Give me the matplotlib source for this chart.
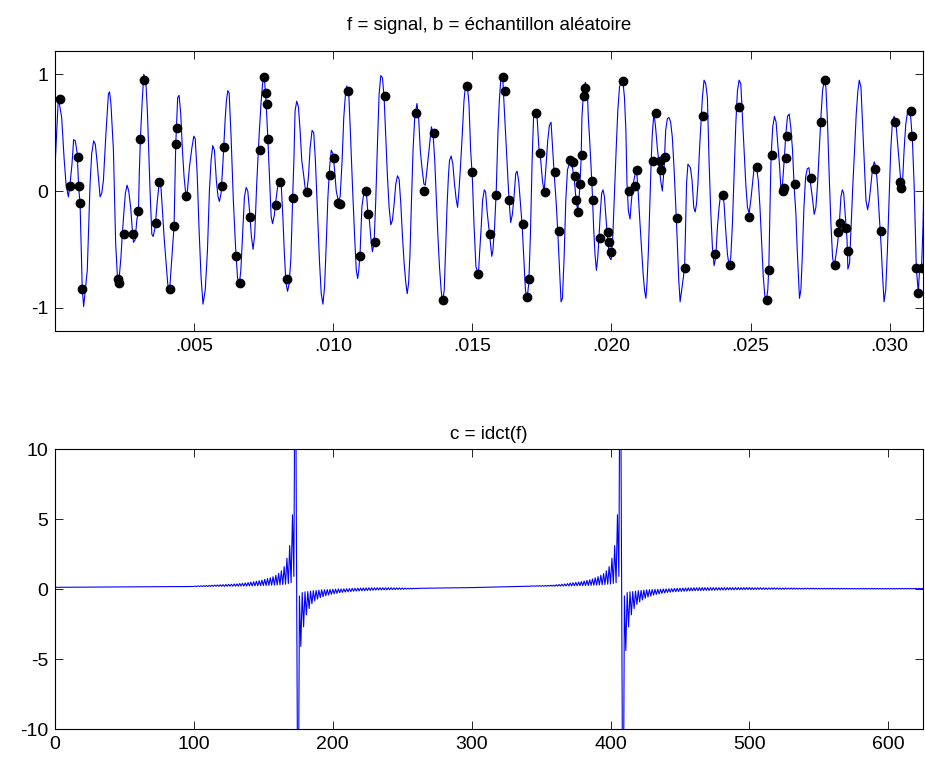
import matplotlib
matplotlib.use('Agg')
import matplotlib.pyplot as plt
import numpy as np

# ---------------- data ----------------
# signal f : time in units of 1e-4 s, value
f_time_1e4 = [0, 1.2, 2.4, 3.24, 3.96, 4.8, 5.4, 6.1, 6.7, 7.3, 8.0, 8.5, 9.0, 9.8, 10.3, 11.6, 12.6, 13.2, 13.9, 14.5,
              15.2, 16.2, 16.8, 17.4, 18.3, 19.2, 19.6, 20.1, 21.0, 21.8, 22.5, 22.9, 23.7, 24.2, 24.8, 25.3, 25.9, 26.5, 27.2, 27.9,
              28.2, 28.8, 29.4, 30.0, 30.3, 30.7, 31.3, 31.9, 32.6, 33.2, 34.2, 34.8, 35.3, 36.0, 36.8, 37.5,
              38.1, 39.2, 40.5, 41.1, 42.0, 42.8, 43.4, 44.1, 44.6, 45.2, 45.8, 46.4, 47.1, 47.6, 48.3, 49.2, 49.9, 50.4,
              51.1, 51.8, 52.5, 53.2, 54.0, 54.8, 55.5, 56.1, 56.7, 57.3, 58.0, 58.6, 59.1, 59.7, 60.4, 61.2, 61.6, 62.1,
              62.6, 63.3, 64.1, 64.9, 65.6, 66.2, 66.8, 67.5, 68.1, 68.7, 69.3, 70.0, 70.6, 71.2, 71.8, 72.5, 73.4, 74.1,
              74.7, 75.2, 75.9, 76.6, 77.1, 77.7, 78.2, 78.8, 79.4, 80.0, 80.7, 81.3, 81.9, 82.4, 83.0, 83.6, 84.2, 84.8,
              85.4, 85.9, 86.3, 86.9, 87.5, 88.1, 88.7, 89.3, 89.9, 90.5, 91.1, 91.7, 92.4, 93.0, 93.6, 94.4, 95.1, 95.7,
              96.3, 96.9, 97.5, 98.1, 98.7, 99.3, 99.9, 100.5, 101.1, 101.8, 102.5, 103.2, 103.8, 104.4, 104.9, 105.6,
              106.2, 107.0, 107.7, 108.3, 108.8, 109.2, 109.7, 110.3, 111.2, 111.9, 112.5,
              112.9, 113.7, 114.1, 114.7, 115.3, 115.9, 116.5, 117.1, 117.7, 118.3, 118.9, 119.5, 120.1, 120.7, 121.3,
              121.9, 122.5, 123.1, 123.7, 124.3, 124.9, 125.5, 126.1, 126.6, 127.1, 127.6, 128.1, 128.7, 129.3, 130.1,
              130.7, 131.3, 131.9, 132.6, 133.1, 133.7, 134.3, 135.3, 135.9, 136.5, 137.1, 137.6, 138.2, 138.8, 139.3,
              139.9, 140.4, 140.9, 141.4, 141.8, 142.4, 143.0, 143.6, 144.2, 144.7, 145.2, 145.8, 146.4, 147.0, 147.6,
              148.2, 148.8, 149.4, 150.0, 150.6, 151.3,
              152.2, 152.6, 153.2, 153.7, 154.3, 154.8, 155.3, 155.9, 156.5, 157.0, 157.4, 158.0, 158.6, 159.2, 159.7,
              160.3, 160.9, 161.4, 162.0, 162.6, 163.2, 163.8, 164.4, 165.0, 165.6, 166.1, 166.7, 167.3, 167.9, 168.5,
              169.1, 169.7, 170.3, 170.9, 171.5, 172.1, 172.7, 173.3, 173.9, 174.6, 175.2, 175.8, 176.4, 177.1, 177.7,
              178.3, 178.9, 179.5, 180.1, 180.7, 181.3, 181.9, 182.4, 183.0, 183.6, 184.2, 184.8, 185.4, 186.0, 186.7,
              187.3, 187.9, 188.5, 189.1,
              189.4, 190.0, 190.6, 191.3, 191.7, 192.2, 192.7, 193.2, 193.6, 194.1, 194.6, 195.1, 195.6, 196.0, 196.5,
              197.0, 197.5, 198.1, 198.7, 199.3, 199.9, 200.5, 201.1, 201.7, 202.3, 202.9, 203.5, 204.1, 204.7, 205.2,
              205.6, 206.1, 206.7, 207.2, 207.8, 208.4, 209.0, 209.6, 210.2, 210.8, 211.4, 211.9, 212.4, 212.8, 213.3,
              213.8, 214.3, 214.7, 215.3, 215.9, 216.5, 217.1, 217.7, 218.3, 218.9, 219.5, 220.1, 220.7, 221.3, 221.9,
              222.5, 223.1, 223.7, 224.2, 224.7, 225.4, 226.3, 226.6, 227.0,
              227.5, 228.4, 229.0, 229.6, 230.1, 230.6, 231.1, 231.7, 232.3, 232.7, 233.3, 233.9, 234.5, 235.1, 235.7,
              236.3, 236.9, 237.5, 238.1, 238.7, 239.3, 239.9, 240.5, 241.1, 241.7, 242.3, 242.9, 243.5, 244.1, 244.7,
              245.3, 245.9, 246.5, 247.1, 247.7, 248.3, 248.9, 249.5, 250.1, 250.7, 251.3, 252.0, 252.8, 253.4, 254.0,
              254.6, 255.2, 255.6, 256.2, 256.6, 257.0, 257.4, 258.0, 258.6, 259.2, 259.8, 260.4, 260.9, 261.5, 262.1,
              262.7, 263.3, 263.9, 264.5, 265.1,
              265.7, 266.3, 266.8, 267.3, 267.6, 268.1, 268.6, 269.2, 269.8, 270.4, 271.0, 271.6, 272.2, 272.9, 273.5,
              274.1, 274.7, 275.3, 275.9, 276.5, 277.1, 277.7, 278.3, 278.9, 279.5, 280.1, 280.7, 281.3, 281.9, 282.5,
              283.0, 283.5, 284.1, 284.7, 285.0, 285.6, 286.2, 286.8, 287.4, 288.0, 288.6, 289.1, 289.7, 290.3, 290.9,
              291.5, 292.1, 292.7, 293.3, 293.9, 294.5, 295.1, 295.7, 296.3, 296.9, 297.5, 298.0, 298.6, 299.2, 299.8,
              300.4, 301.0, 301.6, 302.2, 302.8, 303.4, 304.0, 304.6, 305.2, 305.8, 306.4, 307.0, 307.6, 308.2, 308.8,
              309.6, 310.3, 310.8, 311.5, 312.0, 312.2]
f_value = [0.20, 0.80, 0.63, 0.29, 0.06, -0.05, 0.06, 0.23, 0.44, 0.43, 0.32, 0.03, -0.10, -0.84, -0.99, -0.68, 0.06, 0.32, 0.43, 0.40,
           0.23, -0.05, -0.02, 0.09, 0.49, 0.83, 0.85, 0.75, 0.35, -0.45, -0.76, -0.79, -0.57, -0.37, -0.17, -0.02, 0.05, 0.00, -0.14, -0.37,
           -0.44, -0.42, -0.25, -0.17, 0.15, 0.45, 0.75, 1.00, 0.96, 0.69, -0.02, -0.37, -0.39, -0.31, -0.08, 0.08,
           0.03, -0.39, -0.79, -0.88, -0.57, -0.30, 0.40, 0.80, 0.82, 0.66, 0.35, 0.12, -0.05, 0.00, 0.20, 0.37, 0.47, 0.45,
           0.15, -0.34, -0.74, -0.97, -0.85, -0.51, 0.00, 0.26, 0.39, 0.35, 0.09, -0.05, -0.09, -0.02, 0.26, 0.63, 0.77, 0.86,
           0.84, 0.46, -0.08, -0.48, -0.74, -0.81, -0.68, -0.34, -0.05, 0.03, 0.00, -0.19, -0.39, -0.50, -0.37, 0.06, 0.49, 0.77,
           0.94, 0.99, 0.75, 0.40, 0.12, -0.22, -0.28, -0.21, -0.08, 0.03, 0.09, 0.06, -0.22, -0.51, -0.79, -0.86, -0.79, -0.57,
           -0.08, 0.29, 0.69, 0.77, 0.72, 0.52, 0.26, 0.15, 0.03, -0.01, 0.12, 0.37, 0.52, 0.50, 0.26, -0.22, -0.62, -0.88,
           -0.97, -0.82, -0.45, -0.05, 0.20, 0.35, 0.32, 0.18, 0.00, -0.08, -0.05, 0.26, 0.63, 0.83, 0.90, 0.83,
           0.49, 0.00, -0.39, -0.68, -0.75, -0.68, -0.51, -0.14, 0.02, 0.00, -0.20,
           -0.22, -0.45, -0.52, -0.44, -0.08, 0.40, 0.83, 0.99, 0.97, 0.80, 0.46, 0.12, -0.14, -0.29, -0.25,
           -0.11, 0.06, 0.13, 0.10, -0.11, -0.39, -0.62, -0.79, -0.88, -0.79, -0.54, -0.11, 0.35, 0.63, 0.75,
           0.63, 0.35, 0.20, 0.06, 0.05, 0.18, 0.32, 0.55, 0.49, 0.26, -0.08, -0.37, -0.65, -0.85, -0.96,
           -0.85, -0.51, -0.14, 0.12, 0.26, 0.30, 0.23, 0.06, -0.07, -0.14, 0.00, 0.23, 0.49, 0.77, 0.92,
           0.90, 0.75, 0.35, 0.12, -0.28, -0.65,
           -0.71, -0.54, -0.31, -0.08, 0.01, -0.01, -0.17, -0.31, -0.45, -0.56, -0.51, -0.31, 0.00, 0.49, 0.77,
           0.98, 0.98, 0.75, 0.46, 0.20, -0.08, -0.27, -0.20, -0.05, 0.15, 0.17, 0.08, -0.11, -0.29, -0.57,
           -0.85, -0.92, -0.79, -0.37, 0.26, 0.69, 0.70, 0.63, 0.38, 0.26, 0.09, -0.01, 0.18, 0.43, 0.56,
           0.59, 0.35, 0.12, -0.08, -0.34, -0.65, -0.95, -0.92, -0.57, -0.08, 0.18, 0.23, 0.22, 0.20, 0.09,
           -0.08, -0.17, -0.02, 0.26,
           0.63, 0.86, 0.93, 0.89, 0.63, 0.43, 0.20, -0.05, -0.31, -0.54, -0.68, -0.57, -0.37, -0.19, -0.02,
           0.01, -0.05, -0.25, -0.42, -0.57, -0.59, -0.39, -0.02, 0.35, 0.69, 0.89, 0.94, 0.95, 0.80, 0.52,
           0.06, -0.17, -0.24, -0.08, 0.06, 0.13, 0.19, 0.00, -0.25, -0.48, -0.71, -0.85, -0.92, -0.79, -0.51,
           -0.11, 0.26, 0.49, 0.67, 0.54, 0.37, 0.23, 0.09, 0.00, 0.18, 0.52, 0.62, 0.63, 0.59, 0.46,
           0.20, -0.11, -0.45, -0.76, -0.95, -0.82, -0.66, -0.37, 0.06,
           0.23, 0.20, 0.09, -0.14, -0.18, -0.11, 0.06, 0.37, 0.63, 0.80, 0.95, 0.92, 0.80, 0.26, -0.17,
           -0.48, -0.64, -0.57, -0.31, -0.14, -0.02, -0.01, -0.11, -0.34, -0.54, -0.64, -0.57, -0.28, 0.15, 0.57,
           0.86, 0.95, 0.92, 0.63, 0.35, 0.06, -0.14, -0.19, -0.08, 0.06, 0.20, 0.23, 0.09, -0.14, -0.45,
           -0.74, -0.91, -0.95, -0.85, -0.64, -0.14, 0.30, 0.55, 0.64, 0.59, 0.40, 0.23, 0.03, 0.06, 0.26,
           0.49, 0.64, 0.66, 0.54, 0.35,
           0.03, -0.19, -0.51, -0.76, -0.92, -0.85, -0.57, -0.14, 0.12, 0.19, 0.20, 0.06, -0.05, -0.20, -0.14,
           0.06, 0.35, 0.63, 0.86, 0.95, 0.89, 0.57, 0.12, -0.28, -0.57, -0.65, -0.55, -0.45, -0.29, -0.05,
           0.01, -0.02, -0.22, -0.42, -0.67, -0.62, -0.28, 0.06, 0.35, 0.66, 0.86, 0.95, 0.89, 0.57, 0.23,
           -0.08, -0.16, -0.08, 0.06, 0.20, 0.25, 0.20, 0.03, -0.22, -0.45, -0.74, -0.95, -0.85, -0.51, -0.08,
           0.35, 0.59, 0.64, 0.60, 0.43, 0.26, 0.09, 0.05, 0.35, 0.57, 0.67, 0.70, 0.63, 0.43, 0.06,
           -0.66, -0.87, -0.66, -0.64, -0.30, -0.10]

# random sample b : time in units of 1e-4 s, value
b_time_1e4 = [1.8, 5.4, 8.1, 8.5, 9.0, 9.8, 22.5, 22.9, 24.8, 27.9, 30.0, 30.6, 32.1, 36.3, 37.4,
              41.4, 42.8, 43.4, 43.7, 47.1, 60.0, 60.8, 65.1, 66.5, 70.1, 73.7,
              75.2, 75.7, 76.1, 76.7, 79.5, 80.9, 83.3, 85.5, 90.5, 98.9, 100.4, 101.7, 102.5, 105.4, 109.7, 111.9, 112.5,
              114.9, 118.5, 129.9, 132.7, 136.3, 139.3, 148.1, 149.9, 152.0,
              156.5, 158.6, 160.9, 161.6, 163.1, 168.1, 169.7, 170.3, 173.0, 174.5, 176.0, 179.6, 181.1, 185.0, 186.2,
              186.8, 187.4, 188.0, 188.6,
              189.3, 190.1, 190.5, 193.1, 193.4, 196.0, 198.6, 199.1, 199.8, 204.1, 206.2, 208.4, 209.2, 214.9, 216.2,
              217.6, 217.9, 219.1, 223.6, 226.3,
              232.9, 237.2, 240.0, 242.8, 245.8, 249.4, 252.3, 256.0, 256.6, 257.6, 261.6, 262.2, 262.6, 263.0,
              266.0, 271.6, 275.2, 276.7, 280.3, 281.6, 282.0, 284.5, 284.9, 294.7, 296.8, 301.9, 303.8, 304.2,
              307.6, 308.2, 309.6, 310.3, 311.5]
b_value = [0.79, 0.04, 0.29, 0.04, -0.10, -0.84, -0.75, -0.79, -0.37, -0.37, -0.17, 0.45, 0.95, -0.27, 0.08,
           -0.84, -0.30, 0.40, 0.54, -0.04, 0.04, 0.38, -0.56, -0.79, -0.22, 0.35,
           0.98, 0.84, 0.75, 0.45, -0.12, 0.08, -0.75, -0.06, -0.01, 0.14, 0.28, -0.10, -0.11, 0.86, -0.56, 0.00, -0.20,
           -0.44, 0.81, 0.67, 0.00, 0.50, -0.93, 0.90, 0.16, -0.71,
           -0.37, -0.03, 0.98, 0.86, -0.08, -0.28, -0.91, -0.75, 0.67, 0.33, -0.01, 0.16, -0.34, 0.27, 0.25,
           0.13, -0.08, -0.18, 0.06,
           0.31, 0.81, 0.88, 0.09, -0.08, -0.40, -0.35, -0.44, -0.52, 0.94, 0.00, 0.04, 0.18, 0.26, 0.67,
           0.26, 0.18, 0.29, -0.23, -0.66,
           0.64, -0.54, -0.03, -0.63, 0.72, -0.22, 0.21, -0.93, -0.68, 0.31, 0.00, 0.03, 0.28, 0.47,
           0.06, 0.11, 0.59, 0.95, -0.63, -0.35, -0.27, -0.32, -0.51, 0.19, -0.34, 0.59, 0.08, 0.03,
           0.69, 0.47, -0.66, -0.87, -0.66]

# c = idct(f): flat parts (index, value) and the dense oscillating stretches
c_base_start_idx = [0, 99]
c_base_start_val = [0.12, 0.18]
c_seg1_first_idx = 100
c_seg1_values = [
    0.18, 0.21, 0.18, 0.22, 0.18, 0.23, 0.18, 0.24, 0.18, 0.25,
    0.18, 0.26, 0.18, 0.27, 0.19, 0.28, 0.19, 0.29, 0.19, 0.30,
    0.19, 0.31, 0.19, 0.32, 0.20, 0.33, 0.20, 0.34, 0.20, 0.36,
    0.20, 0.37, 0.20, 0.39, 0.21, 0.41, 0.21, 0.43, 0.21, 0.46,
    0.22, 0.49, 0.22, 0.52, 0.23, 0.55, 0.23, 0.59, 0.24, 0.63,
    0.25, 0.69, 0.25, 0.74, 0.26, 0.80, 0.27, 0.88, 0.28, 0.98,
    0.29, 1.12, 0.30, 1.30, 0.32, 1.60, 0.34, 2.20, 0.38, 3.10,
    0.45, 5.30, 0.90, 22.0, 1.00, -22.0, -0.50, -4.10, -0.25, -2.70,
    -0.20, -1.85, -0.18, -1.40, -0.15, -1.05, -0.12, -0.85, -0.10, -0.72,
    -0.08, -0.62, -0.06, -0.55, -0.05, -0.48, -0.04, -0.43, -0.03, -0.38,
    -0.02, -0.34, -0.01, -0.31, 0.00, -0.27, 0.00, -0.24, 0.01, -0.22,
    0.02, -0.20, 0.03, -0.18, 0.04, -0.16, 0.05, -0.15, 0.06, -0.14,
    0.07, -0.13, 0.08, -0.12, 0.08, -0.11, 0.09, -0.10, 0.09, -0.09,
    0.09, -0.08, 0.09, -0.07, 0.09, -0.07, 0.09, -0.06, 0.09, -0.06,
    0.09, -0.05, 0.09, -0.04, 0.08, -0.04, 0.08, -0.03, 0.08, -0.03,
    0.07, -0.02, 0.07, -0.01, 0.06, 0.00, 0.06, 0.01, 0.06, 0.02,
    0.05, 0.03, 0.05]
c_base_mid_idx = [300, 341]
c_base_mid_val = [0.10, 0.20]
c_seg2_first_idx = 342
c_seg2_values = [
    0.20, 0.22, 0.20, 0.22, 0.20, 0.23, 0.20, 0.23,
    0.20, 0.24, 0.20, 0.25, 0.20, 0.26, 0.20, 0.27, 0.20, 0.28,
    0.20, 0.30, 0.21, 0.32, 0.21, 0.34, 0.21, 0.36, 0.22, 0.39,
    0.22, 0.43, 0.22, 0.45, 0.23, 0.47, 0.23, 0.50, 0.24, 0.53,
    0.24, 0.57, 0.25, 0.61, 0.25, 0.66, 0.26, 0.72, 0.27, 0.80,
    0.28, 0.88, 0.29, 0.98, 0.30, 1.10, 0.32, 1.30, 0.34, 1.60,
    0.36, 2.20, 0.40, 3.10, 0.45, 5.30, 0.90, 22.0, 1.00, -22.0,
    -0.50, -4.40, -0.25, -2.70, -0.20, -1.85, -0.18, -1.40, -0.15, -1.10,
    -0.12, -0.92, -0.10, -0.78, -0.08, -0.66, -0.06, -0.57, -0.05, -0.50,
    -0.04, -0.44, -0.03, -0.39, -0.02, -0.35, -0.01, -0.31, 0.00, -0.28,
    0.01, -0.25, 0.02, -0.23, 0.03, -0.21, 0.04, -0.19, 0.05, -0.18,
    0.06, -0.17, 0.07, -0.16, 0.07, -0.15, 0.08, -0.14, 0.08, -0.13,
    0.09, -0.12, 0.09, -0.12, 0.10, -0.11, 0.10, -0.11, 0.10, -0.10,
    0.10, -0.10, 0.10, -0.09, 0.10, -0.09, 0.10, -0.08, 0.10, -0.08,
    0.10, -0.07, 0.10, -0.07, 0.10, -0.06, 0.10, -0.06, 0.10, -0.06,
    0.10, -0.05, 0.10, -0.05, 0.10, -0.05, 0.10, -0.04, 0.10, -0.04,
    0.10, -0.04, 0.09, -0.04, 0.09, -0.03, 0.09, -0.03, 0.09, -0.03,
    0.08, -0.03, 0.08, -0.03, 0.08, -0.02, 0.08, -0.02, 0.08, -0.02,
    0.08, -0.02, 0.07, -0.02, 0.07, -0.02, 0.07, -0.01, 0.07, -0.01,
    0.07, -0.01, 0.07, -0.01, 0.06, -0.01, 0.06, -0.01, 0.06, -0.01,
    0.06, 0.00, 0.06, 0.00, 0.06, 0.00, 0.06, 0.00, 0.05, 0.00,
    0.05, 0.00, 0.05, 0.00, 0.05, 0.00, 0.05, 0.00, 0.05, 0.00,
    0.05, 0.00, 0.05, 0.00, 0.05, 0.00, 0.05, 0.00, 0.05, 0.00,
    0.05, 0.00, 0.04, 0.00, 0.04, 0.00, 0.04, 0.00, 0.04, 0.00,
    0.04, 0.00, 0.04, 0.00, 0.04, 0.00, 0.04, 0.00, 0.04, 0.00,
    0.04, 0.00, 0.04, 0.00, 0.04, 0.00, 0.04, 0.00, 0.04, 0.00,
    0.04, 0.00, 0.04, 0.00, 0.04, 0.00, 0.04, 0.01, 0.04, 0.01,
    0.04, 0.01, 0.04, 0.01, 0.04, 0.01, 0.04, 0.01, 0.04, 0.01,
    0.04, 0.01, 0.04, 0.01, 0.04, 0.01]
c_base_end_idx = [625]
c_base_end_val = [0.02]

f_xticks = [0.005, 0.010, 0.015, 0.020, 0.025, 0.030]
f_xticklabels = ['.005', '.010', '.015', '.020', '.025', '.030']
f_yticks = [-1, 0, 1]
c_xticks = [0, 100, 200, 300, 400, 500, 600]
c_yticks = [-10, -5, 0, 5, 10]

title_top = 'f = signal, b = échantillon aléatoire'
title_bottom = 'c = idct(f)'

# ---------------- drawing ----------------
plt.rcParams['font.family'] = ['Liberation Sans', 'DejaVu Sans']
plt.rcParams['axes.unicode_minus'] = False

W, H = 925, 767
fig = plt.figure(figsize=(W / 100, H / 100), dpi=100)
ax1 = fig.add_axes([55 / W, 1 - 331 / H, (923 - 55) / W, 280 / H])
ax2 = fig.add_axes([55 / W, 1 - 729 / H, (923 - 55) / W, 280 / H])

blue = '#0000ff'
ax1.plot(np.array(f_time_1e4) * 1e-4, f_value, color=blue, lw=0.8)
ax1.plot(np.array(b_time_1e4) * 1e-4, b_value, 'o', color='black', ms=6, mec='black')
ax1.set_xlim(0, 0.0312)
ax1.set_ylim(-1.2, 1.2)
ax1.set_xticks(f_xticks)
ax1.set_xticklabels(f_xticklabels)
ax1.set_yticks(f_yticks)
ax1.set_yticklabels([str(v) for v in f_yticks])
ax1.set_title(title_top, fontsize=13.5, pad=15)

seg1_idx = [c_seg1_first_idx + i for i in range(len(c_seg1_values))]
seg2_idx = [c_seg2_first_idx + i for i in range(len(c_seg2_values))]
seg2_keep = [i for i, k in enumerate(seg2_idx) if k < c_base_end_idx[0]]
c_idx = (c_base_start_idx + seg1_idx + c_base_mid_idx
         + [seg2_idx[i] for i in seg2_keep] + c_base_end_idx)
c_val = (c_base_start_val + c_seg1_values + c_base_mid_val
         + [c_seg2_values[i] for i in seg2_keep] + c_base_end_val)
ax2.plot(c_idx, c_val, color=blue, lw=0.8)
ax2.set_xlim(0, 625)
ax2.set_ylim(-10, 10)
ax2.set_xticks(c_xticks)
ax2.set_xticklabels([str(v) for v in c_xticks])
ax2.set_yticks(c_yticks)
ax2.set_yticklabels([str(v) for v in c_yticks])
ax2.set_title(title_bottom, fontsize=13.5, pad=7)

for ax in (ax1, ax2):
    ax.tick_params(direction='in', top=True, right=True, length=6, width=0.6,
                   labelsize=14, pad=5, colors='black')
    for s in ax.spines.values():
        s.set_linewidth(0.8)
        s.set_color('black')

fig.savefig('out.png', dpi=100)
